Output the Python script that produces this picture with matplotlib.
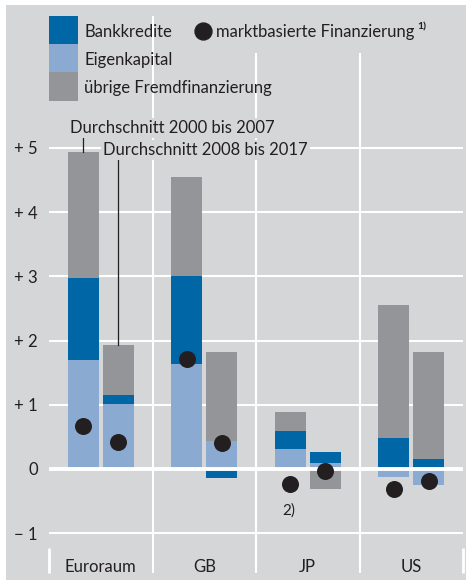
import matplotlib.pyplot as plt
from matplotlib.patches import Rectangle
from matplotlib.lines import Line2D

plt.rcParams['font.family'] = ['Lato', 'DejaVu Sans']

categories = ["Euroraum", "GB", "JP", "US"]

# Durchschnitt 2000 bis 2007
eigen_a = [1.70, 1.64, 0.31, -0.13]
bank_a = [1.27, 1.36, 0.28, 0.48]
rest_a = [1.97, 1.55, 0.29, 2.07]
markt_a = [0.67, 1.71, -0.24, -0.31]

# Durchschnitt 2008 bis 2017
eigen_b = [1.01, 0.44, 0.10, -0.245]
bank_b = [0.15, -0.145, 0.16, 0.155]
rest_b = [0.77, 1.39, -0.31, 1.665]
markt_b = [0.42, 0.40, -0.03, -0.19]

yticks = [-1, 0, 1, 2, 3, 4, 5]
ylabels = ["\u2212 1", "0", "+ 1", "+ 2", "+ 3", "+ 4", "+ 5"]

BG = "#d5d6d8"
DARK = "#0066a6"
LIGHT = "#8aaad2"
GREY = "#939598"
TXT = "#231f20"
FS = 12

W, H = 466, 580


def fx(x):
    return x / W


def fy(y):
    return 1 - y / H


fig = plt.figure(figsize=(W / 100, H / 100), dpi=100, facecolor="white")
fig.patches.append(Rectangle((fx(6), 0), 1 - fx(6), fy(5), transform=fig.transFigure,
                             facecolor=BG, edgecolor="none", zorder=-5))

ax = fig.add_axes([fx(49), fy(573), fx(463) - fx(49), fy(16) - fy(573)])
ax.set_zorder(1)
ax.patch.set_visible(False)
for s in ax.spines.values():
    s.set_visible(False)
ax.set_xlim(-0.5, 3.5)
ax.set_ylim(-1.62, 7.056)

ax.set_yticks(yticks)
ax.set_yticklabels(ylabels, fontsize=FS, color=TXT)
ax.tick_params(axis="y", length=0, pad=8)
ax.set_xticks([])

for t in yticks:
    if t == 0:
        continue
    ax.axhline(t, color="white", lw=1.5, zorder=0)
ax.axhline(0, color="white", lw=2.8, zorder=3)

ax.vlines(0.5, -1.62, 7.056, color="white", lw=1.5, zorder=0)
ax.vlines([1.5, 2.5], -1.62, 6.48, color="white", lw=1.5, zorder=0)
ax.vlines([-0.5, 3.5], -1.62, -1.23, color="white", lw=2.0, zorder=0, clip_on=False)

w = 0.30
off = 0.17
for shift, parts, markt in [(-off, [eigen_a, bank_a, rest_a], markt_a),
                            (off, [eigen_b, bank_b, rest_b], markt_b)]:
    xs = [i + shift for i in range(len(categories))]
    pos = [0.0] * len(categories)
    neg = [0.0] * len(categories)
    for vals, col in zip(parts, [LIGHT, DARK, GREY]):
        bottoms = [pos[i] if v >= 0 else neg[i] for i, v in enumerate(vals)]
        ax.bar(xs, vals, width=w, bottom=bottoms, color=col, zorder=2)
        for i, v in enumerate(vals):
            if v >= 0:
                pos[i] += v
            else:
                neg[i] += v
    ax.scatter(xs, markt, s=150, color=TXT, zorder=4, linewidths=0)

for i, c in enumerate(categories):
    ax.text(i, -1.604, c, ha="center", va="baseline", fontsize=FS, color=TXT)

top_a = eigen_a[0] + bank_a[0] + rest_a[0]
top_b = eigen_b[0] + bank_b[0] + rest_b[0]
ax.plot([-off, -off], [top_a, 5.17], color=TXT, lw=0.9, zorder=3)
ax.plot([off, off], [top_b, 4.84], color=TXT, lw=0.9, zorder=3)
box = dict(facecolor=BG, edgecolor="none", pad=1.5)
ax.text(-0.297, 5.234, "Durchschnitt 2000 bis 2007", fontsize=FS, color=TXT,
        va="baseline", bbox=box, zorder=3)
ax.text(0.022, 4.89, "Durchschnitt 2008 bis 2017", fontsize=FS, color=TXT,
        va="baseline", bbox=box, zorder=3)

ax.text(1.819, -0.654, "2)", ha="center", va="center", fontsize=11, color=TXT)

# Legende
for y0, col, lab in [(16, DARK, "Bankkredite"), (44, LIGHT, "Eigenkapital"),
                     (72, GREY, "übrige Fremdfinanzierung")]:
    fig.patches.append(Rectangle((fx(49), fy(y0 + 28.5)), fx(29), (28.5) / H,
                                 transform=fig.transFigure, facecolor=col,
                                 edgecolor="none", zorder=1))
    fig.text(fx(84), fy(y0 + 21), lab, fontsize=FS, color=TXT, va="baseline")

fig.add_artist(Line2D([fx(203)], [fy(31)], marker="o", markersize=12.2, color=TXT,
                      linestyle="none", transform=fig.transFigure))
fig.text(fx(216), fy(37), "marktbasierte Finanzierung", fontsize=FS, color=TXT, va="baseline")
fig.text(fx(417), fy(29), "1)", fontsize=7.5, color=TXT, va="baseline", fontweight="bold")

fig.savefig("out.png", dpi=100, facecolor="white")
